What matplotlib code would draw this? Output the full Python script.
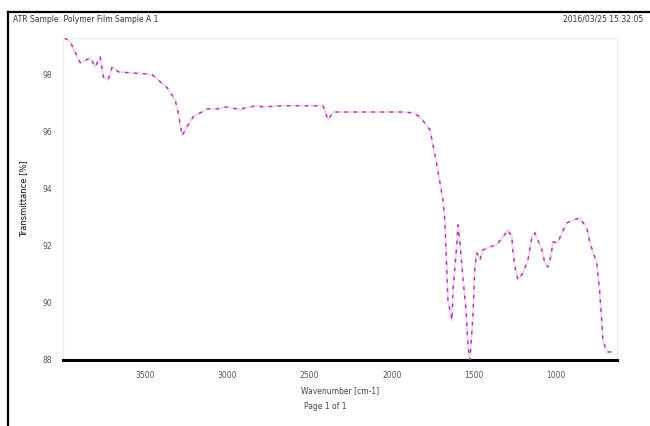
import matplotlib
matplotlib.use("Agg")
from matplotlib import pyplot as plt
from matplotlib.lines import Line2D

# spectrum (wavenumber cm-1, transmittance %)
wavenumber = [3990, 3956, 3895, 3834, 3804, 3774, 3755, 3725, 3701, 3664,
              3579, 3500, 3457, 3366, 3318, 3299, 3275, 3245, 3208, 3123,
              3062, 3001, 2922, 2892, 2819, 2783, 2661, 2576, 2466, 2418,
              2387, 2357, 2314, 2193, 2010, 1931, 1871, 1828, 1767, 1731,
              1688, 1676, 1658, 1633, 1627, 1603, 1597, 1585, 1567, 1548,
              1536, 1524, 1506, 1494, 1482, 1463, 1445, 1402, 1360, 1323,
              1293, 1269, 1263, 1250, 1232, 1202, 1171, 1147, 1129, 1111,
              1086, 1068, 1050, 1032, 1019, 989, 965, 934, 898, 855,
              813, 794, 752, 734, 721, 715, 691, 661]
transmittance = [99.30, 99.16, 98.42, 98.60, 98.28, 98.64, 97.93, 97.83, 98.28, 98.11,
                 98.07, 98.04, 98.00, 97.55, 97.13, 96.67, 95.87, 96.20, 96.53, 96.81,
                 96.81, 96.88, 96.78, 96.85, 96.92, 96.88, 96.92, 96.92, 96.92, 96.92,
                 96.42, 96.70, 96.70, 96.70, 96.70, 96.70, 96.67, 96.53, 96.07, 95.02,
                 93.62, 92.81, 90.11, 89.40, 90.46, 92.11, 92.74, 92.11, 90.91, 89.76,
                 88.46, 88.00, 89.51, 91.26, 91.76, 91.51, 91.86, 91.97, 92.04, 92.32,
                 92.56, 92.32, 91.86, 91.26, 90.81, 91.05, 91.51, 92.32, 92.46, 92.21,
                 91.86, 91.40, 91.26, 91.62, 92.14, 92.11, 92.46, 92.81, 92.91, 92.98,
                 92.63, 92.11, 91.40, 90.35, 89.30, 88.70, 88.28, 88.28]

x_ticks = [3500, 3000, 2500, 2000, 1500, 1000]
y_ticks = [88, 90, 92, 94, 96, 98]

title_left = "ATR Sample: Polymer Film Sample A 1"
title_right = "2016/03/25 15:32:05"

fig = plt.figure(figsize=(6.5, 4.26), dpi=100)
ax = fig.add_axes([0.097, 0.155, 0.852, 0.756])

# faint underlay plus dashed trace, like the printed spectrum
ax.plot(wavenumber, transmittance, color="#f6d4f6", lw=1.4, zorder=2)
ax.plot(wavenumber, transmittance, color="#a8389f", lw=1.0,
        dashes=(2.5, 4), zorder=3)

ax.set_xlim(4000, 630)
ax.set_ylim(88, 99.3)
ax.set_xticks(x_ticks)
ax.set_yticks(y_ticks)
ax.tick_params(length=0, labelsize=5.5, labelcolor="#555555", pad=8)

for side in ["left", "top", "right"]:
    ax.spines[side].set_color("#eeeeee")
    ax.spines[side].set_linewidth(0.8)
ax.spines["bottom"].set_color("black")
ax.spines["bottom"].set_linewidth(2.2)

ax.set_xlabel("Wavenumber [cm-1]", fontsize=5.5, color="#444444", labelpad=4)
ax.set_ylabel("Transmittance [%]", fontsize=6, color="#111111", labelpad=10)

fig.text(0.5, 0.04, "Page 1 of 1", fontsize=5.5, color="#444444", ha="center")
fig.text(0.02, 0.955, title_left, fontsize=5.5, color="#333333", va="center")
fig.text(0.99, 0.955, title_right, fontsize=5.5, color="#333333",
         va="center", ha="right")

# page frame
fig.add_artist(Line2D([0.012, 1.0], [0.972, 0.972], color="black", lw=1.6,
                      transform=fig.transFigure))
fig.add_artist(Line2D([0.013, 0.013], [0.0, 0.972], color="black", lw=1.6,
                      transform=fig.transFigure))

fig.savefig("out.png", dpi=100)
